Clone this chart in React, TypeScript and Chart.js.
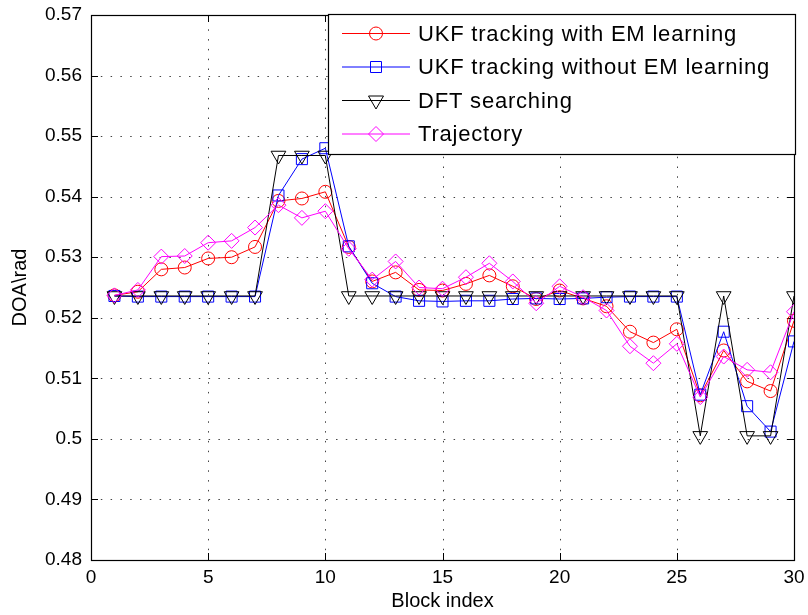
import React, { useEffect, useRef } from 'react';
import { Chart, registerables } from 'chart.js';

Chart.register(...registerables);

const blockIndex = [1, 2, 3, 4, 5, 6, 7, 8, 9, 10, 11, 12, 13, 14, 15, 16, 17, 18, 19, 20, 21, 22, 23, 24, 25, 26, 27, 28, 29, 30];

const ukfWithEM = [0.5237, 0.5243, 0.5280, 0.5283, 0.5298, 0.5300, 0.5317, 0.5393, 0.5397, 0.5408, 0.5317, 0.5260, 0.5275, 0.5246, 0.5245, 0.5256, 0.5270, 0.5252, 0.5231, 0.5245, 0.5232, 0.5219, 0.5177, 0.5159, 0.5181, 0.5072, 0.5146, 0.5095, 0.5079, 0.5195];

const ukfWithoutEM = [0.5236, 0.5235, 0.5235, 0.5235, 0.5235, 0.5235, 0.5235, 0.5402, 0.5462, 0.5480, 0.5318, 0.5257, 0.5235, 0.5228, 0.5227, 0.5228, 0.5228, 0.5231, 0.5232, 0.5231, 0.5232, 0.5234, 0.5235, 0.5235, 0.5235, 0.5073, 0.5177, 0.5054, 0.5012, 0.5161];

const dftSearching = [0.5236, 0.5236, 0.5236, 0.5236, 0.5236, 0.5236, 0.5236, 0.5468, 0.5468, 0.5468, 0.5236, 0.5236, 0.5236, 0.5236, 0.5236, 0.5236, 0.5236, 0.5236, 0.5236, 0.5236, 0.5236, 0.5236, 0.5236, 0.5236, 0.5236, 0.5005, 0.5236, 0.5005, 0.5005, 0.5236];

const trajectory = [0.5237, 0.5246, 0.5301, 0.5302, 0.5324, 0.5327, 0.5349, 0.5386, 0.5365, 0.5376, 0.5314, 0.5263, 0.5293, 0.5250, 0.5248, 0.5267, 0.5290, 0.5260, 0.5224, 0.5252, 0.5234, 0.5212, 0.5153, 0.5125, 0.5157, 0.5069, 0.5136, 0.5114, 0.5110, 0.5210];

const xTicks = [0, 5, 10, 15, 20, 25, 30];
const yTicks = [0.48, 0.49, 0.5, 0.51, 0.52, 0.53, 0.54, 0.55, 0.56, 0.57];

const seriesNames = ['UKF tracking with EM learning', 'UKF tracking without EM learning', 'DFT searching', 'Trajectory'];
const seriesColors = ['#ff0000', '#0000ff', '#000000', '#ff00ff'];
const seriesMarkers = ['circle', 'square', 'triangleDown', 'diamond'];

const FONT = "'Liberation Sans', Arial, Helvetica, sans-serif";

function drawMarker(ctx: CanvasRenderingContext2D, kind: string, x: number, y: number) {
  ctx.beginPath();
  if (kind === 'circle') {
    ctx.arc(x, y, 6.5, 0, Math.PI * 2);
  } else if (kind === 'square') {
    ctx.rect(x - 5.5, y - 5.5, 11, 11);
  } else if (kind === 'triangleDown') {
    ctx.moveTo(x - 7.5, y - 4.5);
    ctx.lineTo(x + 7.5, y - 4.5);
    ctx.lineTo(x, y + 8.5);
    ctx.closePath();
  } else {
    ctx.moveTo(x, y - 7.5);
    ctx.lineTo(x + 7.5, y);
    ctx.lineTo(x, y + 7.5);
    ctx.lineTo(x - 7.5, y);
    ctx.closePath();
  }
  ctx.stroke();
}

export default function App() {
  const ref = useRef<HTMLCanvasElement>(null);

  useEffect(() => {
    document.body.style.margin = '0';
    const canvas = ref.current;
    if (!canvas) return;
    const toPts = (arr: number[]) => arr.map((v, i) => ({ x: blockIndex[i], y: v }));

    const framePlugin = {
      id: 'matlabFrame',
      beforeDatasetsDraw(chart: any) {
        const { ctx, chartArea: a, scales } = chart;
        const xs = scales.x;
        const ys = scales.y;
        ctx.save();
        ctx.lineWidth = 1;
        ctx.strokeStyle = '#444';
        ctx.setLineDash([1.5, 8.3]);
        xTicks.forEach((v) => {
          if (v === xTicks[0] || v === xTicks[xTicks.length - 1]) return;
          const px = Math.round(xs.getPixelForValue(v)) + 0.5;
          ctx.beginPath();
          ctx.moveTo(px, a.bottom);
          ctx.lineTo(px, a.top);
          ctx.stroke();
        });
        yTicks.forEach((v) => {
          if (v === yTicks[0] || v === yTicks[yTicks.length - 1]) return;
          const py = Math.round(ys.getPixelForValue(v)) + 0.5;
          ctx.beginPath();
          ctx.moveTo(a.left, py);
          ctx.lineTo(a.right, py);
          ctx.stroke();
        });
        ctx.setLineDash([]);
        ctx.strokeStyle = '#000';
        const tl = 7;
        xTicks.forEach((v) => {
          const px = Math.round(xs.getPixelForValue(v)) + 0.5;
          ctx.beginPath();
          ctx.moveTo(px, a.bottom);
          ctx.lineTo(px, a.bottom - tl);
          ctx.moveTo(px, a.top);
          ctx.lineTo(px, a.top + tl);
          ctx.stroke();
        });
        yTicks.forEach((v) => {
          const py = Math.round(ys.getPixelForValue(v)) + 0.5;
          ctx.beginPath();
          ctx.moveTo(a.left, py);
          ctx.lineTo(a.left + tl, py);
          ctx.moveTo(a.right, py);
          ctx.lineTo(a.right - tl, py);
          ctx.stroke();
        });
        ctx.lineWidth = 1.2;
        ctx.strokeRect(Math.round(a.left) + 0.5, Math.round(a.top) + 0.5, Math.round(a.right - a.left), Math.round(a.bottom - a.top));
        ctx.restore();
      },
      afterDraw(chart: any) {
        const { ctx, chartArea: a } = chart;
        ctx.save();
        const bx = 328.5;
        const by = Math.round(a.top) - 0.5;
        const bw = Math.round(a.right) - 328 + 1;
        const bh = 140;
        ctx.fillStyle = '#fff';
        ctx.fillRect(bx, by, bw, bh);
        ctx.strokeStyle = '#000';
        ctx.lineWidth = 1.2;
        ctx.strokeRect(bx, by, bw, bh);
        ctx.font = `22px ${FONT}`;
        (ctx as any).letterSpacing = '0.8px';
        ctx.textBaseline = 'middle';
        ctx.textAlign = 'left';
        seriesNames.forEach((name, i) => {
          const ry = 33.5 + i * 33.5;
          ctx.strokeStyle = seriesColors[i];
          ctx.lineWidth = 1;
          ctx.beginPath();
          ctx.moveTo(342, ry);
          ctx.lineTo(410, ry);
          ctx.stroke();
          drawMarker(ctx, seriesMarkers[i], 376, ry);
          ctx.fillStyle = '#000';
          ctx.fillText(name, 418, ry + 1);
        });
        ctx.restore();
      },
    };

    const base = {
      fill: false,
      borderWidth: 1,
      pointBorderWidth: 1,
      pointBackgroundColor: 'rgba(0,0,0,0)',
      backgroundColor: 'rgba(0,0,0,0)',
      tension: 0,
    };

    const chart = new Chart(canvas, {
      type: 'line',
      data: {
        datasets: [
          { ...base, label: seriesNames[0], data: toPts(ukfWithEM), borderColor: seriesColors[0], pointBorderColor: seriesColors[0], pointStyle: 'circle', pointRadius: 6.5, order: 3 },
          { ...base, label: seriesNames[1], data: toPts(ukfWithoutEM), borderColor: seriesColors[1], pointBorderColor: seriesColors[1], pointStyle: 'rect', pointRadius: 7.8, order: 2 },
          { ...base, label: seriesNames[2], data: toPts(dftSearching), borderColor: seriesColors[2], pointBorderColor: seriesColors[2], pointStyle: 'triangle', pointRotation: 180, pointRadius: 8.5, order: 1 },
          { ...base, label: seriesNames[3], data: toPts(trajectory), borderColor: seriesColors[3], pointBorderColor: seriesColors[3], pointStyle: 'rectRot', pointRadius: 7.5, order: 0 },
        ] as any,
      },
      options: {
        responsive: false,
        animation: false,
        events: [],
        layout: { padding: { left: 0, right: 14, top: 15, bottom: 0 } },
        plugins: { legend: { display: false }, tooltip: { enabled: false } },
        scales: {
          x: {
            type: 'linear',
            min: 0,
            max: 30,
            grid: { display: false, drawTicks: false },
            border: { display: false },
            afterBuildTicks: (s: any) => { s.ticks = xTicks.map((v) => ({ value: v })); },
            afterFit: (s: any) => { s.height = 55; s.paddingLeft = 0; s.paddingRight = 0; },
            ticks: {
              color: '#000',
              font: { family: FONT, size: 19 },
              padding: 6,
              maxRotation: 0,
              callback: (v: any) => String(v),
            },
            title: {
              display: true,
              text: 'Block index',
              color: '#000',
              font: { family: FONT, size: 20 },
              padding: { top: 0, bottom: 2 },
            },
          },
          y: {
            type: 'linear',
            min: 0.48,
            max: 0.57,
            grid: { display: false, drawTicks: false },
            border: { display: false },
            afterBuildTicks: (s: any) => { s.ticks = yTicks.map((v) => ({ value: v })); },
            afterFit: (s: any) => { s.width = 91; s.paddingTop = 0; s.paddingBottom = 0; },
            ticks: {
              color: '#000',
              font: { family: FONT, size: 19 },
              padding: 9,
              callback: (v: any) => String(parseFloat(Number(v).toFixed(2))),
            },
            title: {
              display: true,
              text: 'DOA\\rad',
              color: '#000',
              font: { family: FONT, size: 20 },
              padding: { top: 8, bottom: 0 },
            },
          },
        },
      },
      plugins: [framePlugin],
    } as any);

    return () => chart.destroy();
  }, []);

  return <canvas ref={ref} width={808} height={615} style={{ display: 'block' }} />;
}
